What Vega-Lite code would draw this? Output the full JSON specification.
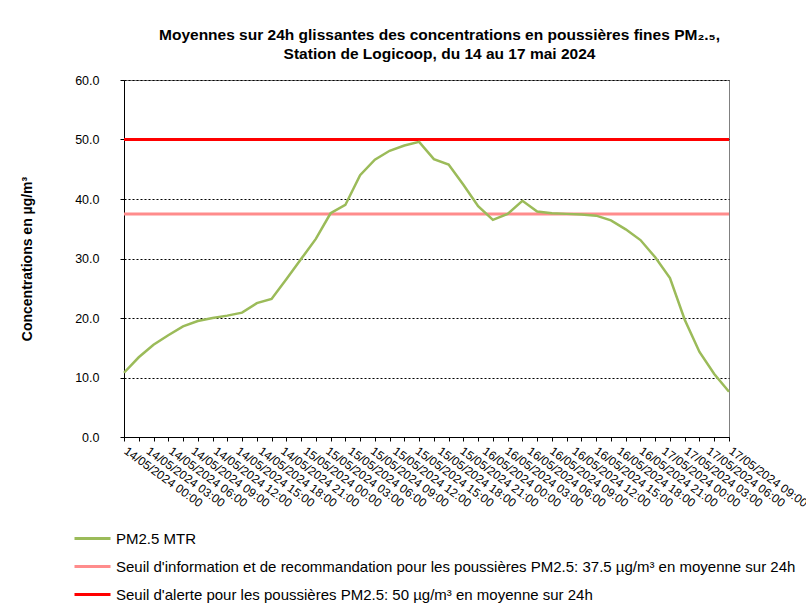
{
  "$schema": "https://vega.github.io/schema/vega-lite/v6.json",
  "autosize": {"type": "none"},
  "width": 605,
  "height": 357,
  "padding": {"left": 124, "top": 80, "right": 77, "bottom": 173},
  "background": "white",
  "config": {
    "font": "Liberation Sans",
    "view": {"stroke": "#808080", "strokeWidth": 1}
  },
  "title": {
    "text": ["Moyennes sur 24h glissantes des concentrations en poussières fines PM₂.₅,", "Station de Logicoop, du 14 au 17 mai 2024"],
    "anchor": "middle",
    "fontSize": 15.5,
    "fontWeight": "bold",
    "color": "black",
    "lineHeight": 19,
    "offset": 12,
    "dx": 13
  },
  "datasets": {
    "mesures": [
      {"point": 0, "valeur": 10.8, "serie": "PM2.5 MTR"},
      {"point": 1, "valeur": 13.4, "serie": "PM2.5 MTR"},
      {"point": 2, "valeur": 15.5, "serie": "PM2.5 MTR"},
      {"point": 3, "valeur": 17.1, "serie": "PM2.5 MTR"},
      {"point": 4, "valeur": 18.6, "serie": "PM2.5 MTR"},
      {"point": 5, "valeur": 19.5, "serie": "PM2.5 MTR"},
      {"point": 6, "valeur": 20.0, "serie": "PM2.5 MTR"},
      {"point": 7, "valeur": 20.4, "serie": "PM2.5 MTR"},
      {"point": 8, "valeur": 20.9, "serie": "PM2.5 MTR"},
      {"point": 9, "valeur": 22.5, "serie": "PM2.5 MTR"},
      {"point": 10, "valeur": 23.2, "serie": "PM2.5 MTR"},
      {"point": 11, "valeur": 26.5, "serie": "PM2.5 MTR"},
      {"point": 12, "valeur": 29.9, "serie": "PM2.5 MTR"},
      {"point": 13, "valeur": 33.3, "serie": "PM2.5 MTR"},
      {"point": 14, "valeur": 37.6, "serie": "PM2.5 MTR"},
      {"point": 15, "valeur": 39.0, "serie": "PM2.5 MTR"},
      {"point": 16, "valeur": 44.0, "serie": "PM2.5 MTR"},
      {"point": 17, "valeur": 46.6, "serie": "PM2.5 MTR"},
      {"point": 18, "valeur": 48.1, "serie": "PM2.5 MTR"},
      {"point": 19, "valeur": 49.0, "serie": "PM2.5 MTR"},
      {"point": 20, "valeur": 49.6, "serie": "PM2.5 MTR"},
      {"point": 21, "valeur": 46.7, "serie": "PM2.5 MTR"},
      {"point": 22, "valeur": 45.8, "serie": "PM2.5 MTR"},
      {"point": 23, "valeur": 42.4, "serie": "PM2.5 MTR"},
      {"point": 24, "valeur": 38.8, "serie": "PM2.5 MTR"},
      {"point": 25, "valeur": 36.5, "serie": "PM2.5 MTR"},
      {"point": 26, "valeur": 37.5, "serie": "PM2.5 MTR"},
      {"point": 27, "valeur": 39.7, "serie": "PM2.5 MTR"},
      {"point": 28, "valeur": 37.9, "serie": "PM2.5 MTR"},
      {"point": 29, "valeur": 37.6, "serie": "PM2.5 MTR"},
      {"point": 30, "valeur": 37.5, "serie": "PM2.5 MTR"},
      {"point": 31, "valeur": 37.4, "serie": "PM2.5 MTR"},
      {"point": 32, "valeur": 37.2, "serie": "PM2.5 MTR"},
      {"point": 33, "valeur": 36.4, "serie": "PM2.5 MTR"},
      {"point": 34, "valeur": 34.9, "serie": "PM2.5 MTR"},
      {"point": 35, "valeur": 33.1, "serie": "PM2.5 MTR"},
      {"point": 36, "valeur": 30.2, "serie": "PM2.5 MTR"},
      {"point": 37, "valeur": 26.7, "serie": "PM2.5 MTR"},
      {"point": 38, "valeur": 19.7, "serie": "PM2.5 MTR"},
      {"point": 39, "valeur": 14.3, "serie": "PM2.5 MTR"},
      {"point": 40, "valeur": 10.6, "serie": "PM2.5 MTR"},
      {"point": 41, "valeur": 7.6, "serie": "PM2.5 MTR"}
    ],
    "seuils": [
      {"date": "14/05/2024 00:00", "valeur": 37.5, "serie": "Seuil d'information et de recommandation pour les poussières PM2.5: 37.5 µg/m³ en moyenne sur 24h"},
      {"date": "17/05/2024 09:00", "valeur": 37.5, "serie": "Seuil d'information et de recommandation pour les poussières PM2.5: 37.5 µg/m³ en moyenne sur 24h"},
      {"date": "14/05/2024 00:00", "valeur": 50, "serie": "Seuil d'alerte pour les poussières PM2.5: 50 µg/m³ en moyenne sur 24h"},
      {"date": "17/05/2024 09:00", "valeur": 50, "serie": "Seuil d'alerte pour les poussières PM2.5: 50 µg/m³ en moyenne sur 24h"}
    ],
    "etiquettes": [
      {"date": "14/05/2024 00:00"}, {"date": "14/05/2024 03:00"}, {"date": "14/05/2024 06:00"}, {"date": "14/05/2024 09:00"},
      {"date": "14/05/2024 12:00"}, {"date": "14/05/2024 15:00"}, {"date": "14/05/2024 18:00"}, {"date": "14/05/2024 21:00"},
      {"date": "15/05/2024 00:00"}, {"date": "15/05/2024 03:00"}, {"date": "15/05/2024 06:00"}, {"date": "15/05/2024 09:00"},
      {"date": "15/05/2024 12:00"}, {"date": "15/05/2024 15:00"}, {"date": "15/05/2024 18:00"}, {"date": "15/05/2024 21:00"},
      {"date": "16/05/2024 00:00"}, {"date": "16/05/2024 03:00"}, {"date": "16/05/2024 06:00"}, {"date": "16/05/2024 09:00"},
      {"date": "16/05/2024 12:00"}, {"date": "16/05/2024 15:00"}, {"date": "16/05/2024 18:00"}, {"date": "16/05/2024 21:00"},
      {"date": "17/05/2024 00:00"}, {"date": "17/05/2024 03:00"}, {"date": "17/05/2024 06:00"}, {"date": "17/05/2024 09:00"}
    ]
  },
  "layer": [
    {
      "data": {"name": "etiquettes"},
      "mark": {"type": "point", "opacity": 0},
      "encoding": {
        "x": {
          "field": "date", "type": "ordinal",
          "scale": {"type": "point", "padding": 0},
          "sort": null,
          "axis": {
            "orient": "bottom", "title": null, "ticks": false, "domain": false, "grid": false,
            "labelAngle": 36, "labelAlign": "left", "labelBaseline": "top",
            "labelFontSize": 12, "labelColor": "black", "labelPadding": 8, "labelOffset": 4, "labelOverlap": false,
            "labelFont": "Liberation Sans"
          }
        },
        "y": {"datum": 0, "type": "quantitative", "scale": {"domain": [0, 60]}}
      }
    },
    {
      "data": {"name": "seuils"},
      "mark": {"type": "line", "strokeWidth": 3},
      "encoding": {
        "x": {"field": "date", "type": "ordinal", "scale": {"type": "point", "padding": 0}, "sort": null, "axis": null},
        "y": {"field": "valeur", "type": "quantitative", "scale": {"domain": [0, 60]}},
        "color": {"field": "serie", "type": "nominal"}
      }
    },
    {
      "data": {"name": "mesures"},
      "mark": {"type": "line", "strokeWidth": 2.5},
      "encoding": {
        "x": {
          "field": "point", "type": "quantitative",
          "scale": {"domain": [0, 41], "nice": false, "zero": false},
          "axis": {
            "orient": "bottom", "title": null, "labels": false, "grid": false,
            "values": [0,1,2,3,4,5,6,7,8,9,10,11,12,13,14,15,16,17,18,19,20,21,22,23,24,25,26,27,28,29,30,31,32,33,34,35,36,37,38,39,40,41],
            "tickSize": 4, "tickColor": "black", "domainColor": "black", "domainWidth": 1
          }
        },
        "y": {
          "field": "valeur", "type": "quantitative",
          "scale": {"domain": [0, 60], "nice": false},
          "axis": {
            "title": "Concentrations en µg/m³", "titleFontSize": 14, "titleFontWeight": "bold", "titleColor": "black",
            "titlePadding": 40,
            "values": [0, 10, 20, 30, 40, 50, 60], "format": ".1f",
            "labelFontSize": 12.5, "labelColor": "black", "labelPadding": 21,
            "tickSize": 4, "tickColor": "black", "domainColor": "black",
            "grid": true, "gridColor": "black", "gridDash": [2, 2], "gridWidth": 1
          }
        },
        "color": {
          "field": "serie", "type": "nominal",
          "scale": {
            "domain": ["PM2.5 MTR", "Seuil d'information et de recommandation pour les poussières PM2.5: 37.5 µg/m³ en moyenne sur 24h", "Seuil d'alerte pour les poussières PM2.5: 50 µg/m³ en moyenne sur 24h"],
            "range": ["#9BBB59", "#FF8C8C", "#FF0000"]
          },
          "legend": {
            "title": null, "orient": "none", "legendX": -51, "legendY": 439,
            "direction": "vertical",
            "symbolType": "stroke", "symbolSize": 1296, "symbolStrokeWidth": 3,
            "rowPadding": -13, "labelOffset": 4,
            "labelFontSize": 15, "labelColor": "black", "labelLimit": 0
          }
        }
      }
    }
  ],
  "resolve": {"scale": {"x": "independent"}, "axis": {"x": "independent"}}
}
